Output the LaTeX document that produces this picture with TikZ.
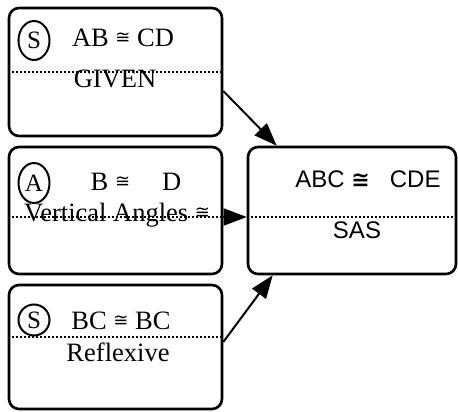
\documentclass[tikz,border=0pt]{standalone}
\usepackage{amsmath}
\usepackage{amssymb}
\usepackage{fontspec}
\setmainfont{Liberation Serif}
\setsansfont{Liberation Sans}
\newfontfamily\congsans{DejaVu Sans}
\usetikzlibrary{arrows.meta,shapes.geometric}

\newcommand\smallcong{\raisebox{3pt}{\congsans\fontsize{18}{18}\selectfont ≅}}
\newcommand\boldcong{{\congsans\bfseries\fontsize{22}{22}\selectfont ≅}}

\tikzset{
  stepbox/.style={draw,line width=2.6pt,rounded corners=10pt,inner sep=0pt},
  rule/.style={line width=2pt,dash pattern=on 2pt off 2pt},
  tag/.style={draw,ellipse,line width=2pt,inner sep=0pt,minimum width=31pt,
    font=\fontsize{25}{25}\selectfont},
  link/.style={-{Triangle[length=23pt,width=17pt]},line width=2pt},
  txt/.style={anchor=base,inner sep=0pt,font=\fontsize{26.5}{26.5}\selectfont},
  sanstxt/.style={anchor=base,inner sep=0pt,font=\sffamily\fontsize{24}{24}\selectfont},
}

\begin{document}
\begin{tikzpicture}[x=1pt,y=-1pt]
\useasboundingbox (0,0) rectangle (458,412);

% the three reasons and the result
\node[stepbox,minimum width=213pt,minimum height=128pt] (given) at (115.5,72) {};
\node[stepbox,minimum width=213pt,minimum height=127pt] (vert) at (115.5,210.5) {};
\node[stepbox,minimum width=213pt,minimum height=124pt] (refl) at (115.5,347) {};
\node[stepbox,minimum width=208pt,minimum height=127pt] (result) at (352,210.5) {};

% dotted rules
\draw[rule] (given.west |- 0,72) to (given.east |- 0,72);
\draw[rule] (vert.west |- 0,217) to (vert.east |- 0,217);
\draw[rule] (refl.west |- 0,337) to (refl.east |- 0,337);
\draw[rule] (result.west |- 0,217) to (result.east |- 0,217);

% letters in circles
\node[tag,minimum height=39pt] (tagS1) at (34,40.5) {S};
\node[tag,minimum height=40pt] (tagA) at (34,183) {A};
\node[tag,minimum height=31pt] (tagS2) at (34,320) {S};

\node[txt] (stmt1) at (123,47) {AB \smallcong{} CD};
\node[txt] (why1) at (115,88) {GIVEN};
\node[txt] (stmt2) at (136,190) {B \smallcong\hspace{32pt}D};
\node[txt] (why2) at (117,221) {Vertical Angles \smallcong};
\node[txt] (stmt3) at (121,329) {BC \smallcong{} BC};
\node[txt] (why3) at (118,361) {Reflexive};
\node[sanstxt] (stmt4) at (368,187) {ABC \boldcong\hspace{20pt}CDE};
\node[sanstxt] (why4) at (357,238) {SAS};

\draw[link] (given.-10) to ([xshift=30pt]result.north west);
\draw[link] (vert.east |- 0,217) to (result.west |- 0,217);
\draw[link] ([yshift=5pt]refl.east) to ([xshift=26pt]result.south west);
\end{tikzpicture}
\end{document}
